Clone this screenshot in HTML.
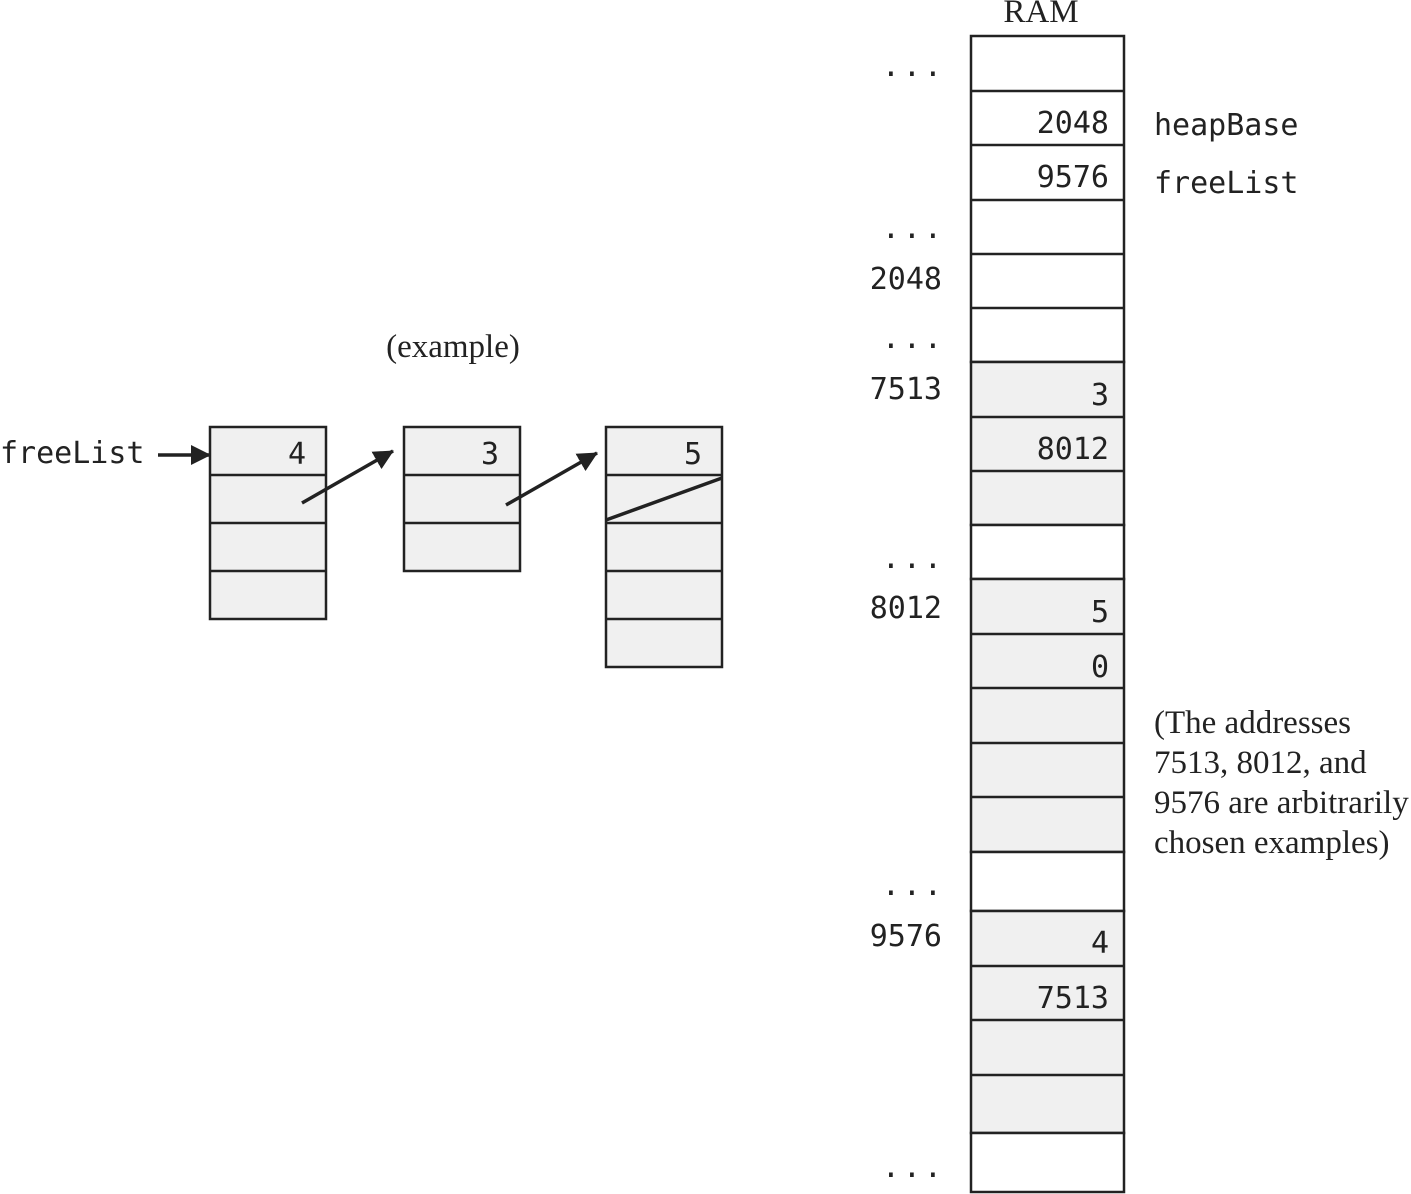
<!DOCTYPE html>
<html><head><meta charset="utf-8"><style>
html,body{margin:0;padding:0;background:#fff;}
svg{display:block}
.m{font-family:"DejaVu Sans Mono","Liberation Mono",monospace;font-size:30px;fill:#222}
.s{font-family:"Liberation Serif",serif;font-size:33px;fill:#222}
</style></head><body>
<svg width="1411" height="1194" viewBox="0 0 1411 1194" xmlns="http://www.w3.org/2000/svg">
<defs>
<marker id="b" markerWidth="20" markerHeight="20" refX="19" refY="10" orient="auto" markerUnits="userSpaceOnUse" viewBox="0 0 20 20"><path d="M0,0 L20,10 L0,20z" fill="#222"/></marker></defs>
<g stroke="#222" stroke-width="2.5">
<rect x="971" y="36" width="153" height="326" fill="#fff"/>
<rect x="971" y="362" width="153" height="163" fill="#f0f0f0"/>
<rect x="971" y="525" width="153" height="54" fill="#fff"/>
<rect x="971" y="579" width="153" height="273" fill="#f0f0f0"/>
<rect x="971" y="852" width="153" height="59" fill="#fff"/>
<rect x="971" y="911" width="153" height="222" fill="#f0f0f0"/>
<rect x="971" y="1133" width="153" height="59" fill="#fff"/>
<path d="M971 91H1124M971 145H1124M971 200H1124M971 254H1124M971 308H1124M971 417H1124M971 471H1124M971 634H1124M971 688H1124M971 743H1124M971 797H1124M971 966H1124M971 1020H1124M971 1075H1124"/>
<rect x="210" y="427" width="116" height="192" fill="#f0f0f0"/>
<path d="M210 475H326M210 523H326M210 571H326"/>
<rect x="404" y="427" width="116" height="144" fill="#f0f0f0"/>
<path d="M404 475H520M404 523H520"/>
<rect x="606" y="427" width="116" height="240" fill="#f0f0f0"/>
<path d="M606 475H722M606 523H722M606 571H722M606 619H722"/>
</g>
<g stroke="#222" stroke-width="3.5" fill="none">
<line x1="158" y1="455" x2="210" y2="455" marker-end="url(#b)"/>
<line x1="302" y1="503" x2="393" y2="451" marker-end="url(#b)"/>
<line x1="506" y1="505" x2="597" y2="453" marker-end="url(#b)"/>
<line x1="606" y1="520" x2="722" y2="478"/>
</g>
<text class="s" x="1041" y="22" text-anchor="middle">RAM</text>
<text class="s" x="453" y="357" text-anchor="middle">(example)</text>
<text class="s" x="1154" y="733">(The addresses</text>
<text class="s" x="1154" y="773">7513, 8012, and</text>
<text class="s" x="1154" y="813">9576 are arbitrarily</text>
<text class="s" x="1154" y="853">chosen examples)</text>
<g class="m">
<text x="0" y="463">freeList</text>
<text x="1154" y="135">heapBase</text>
<text x="1154" y="193">freeList</text>
<g text-anchor="end">
<text x="306" y="464">4</text>
<text x="499" y="464">3</text>
<text x="702" y="464">5</text>
<text x="1109" y="133">2048</text>
<text x="1109" y="187">9576</text>
<text x="1109" y="405">3</text>
<text x="1109" y="459">8012</text>
<text x="1109" y="622">5</text>
<text x="1109" y="677">0</text>
<text x="1109" y="953">4</text>
<text x="1109" y="1008">7513</text>
<text x="942" y="289">2048</text>
<text x="942" y="399">7513</text>
<text x="942" y="618">8012</text>
<text x="942" y="946">9576</text>
</g>
<g text-anchor="end" letter-spacing="3">
<text x="945" y="76">...</text>
<text x="945" y="238">...</text>
<text x="945" y="348">...</text>
<text x="945" y="568">...</text>
<text x="945" y="895">...</text>
<text x="945" y="1177">...</text>
</g></g>
</svg>
</body></html>
